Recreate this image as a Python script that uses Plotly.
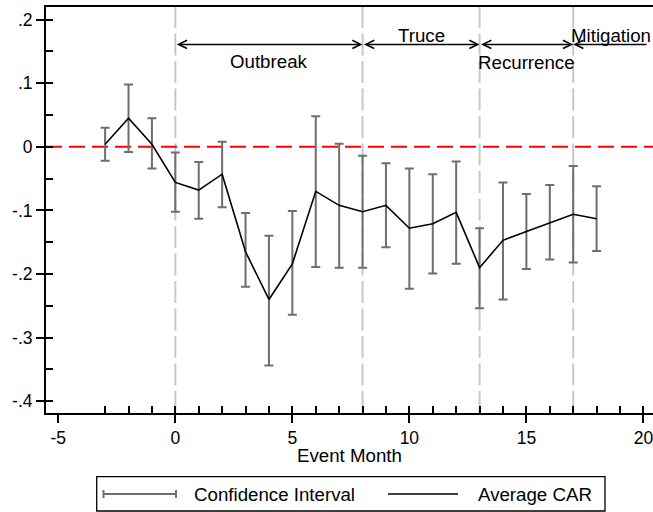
import plotly.graph_objects as go

# ---------------- data ----------------
months = list(range(-3, 19))
avg_car = [0.004, 0.045, 0.004, -0.056, -0.068, -0.043, -0.165, -0.240, -0.184,
           -0.070, -0.092, -0.102, -0.092, -0.128, -0.121, -0.103, -0.190, -0.147,
           -0.133, -0.119, -0.106, -0.113]
ci_upper = [0.030, 0.098, 0.045, -0.009, -0.024, 0.008, -0.104, -0.140, -0.101,
            0.048, 0.005, -0.014, -0.026, -0.034, -0.043, -0.023, -0.128, -0.056,
            -0.074, -0.060, -0.030, -0.062]
ci_lower = [-0.022, -0.008, -0.034, -0.102, -0.113, -0.095, -0.220, -0.344, -0.264,
            -0.189, -0.190, -0.190, -0.158, -0.223, -0.199, -0.184, -0.254, -0.240,
            -0.192, -0.177, -0.182, -0.164]

phase_names = ["Outbreak", "Truce", "Recurrence", "Mitigation"]
phase_starts = [0, 8, 13, 17]
phase_ends = [8, 13, 17, 20.2]

x_tickvals = [-5, 0, 5, 10, 15, 20]
x_ticktext = ["-5", "0", "5", "10", "15", "20"]
y_tickvals = [-0.4, -0.3, -0.2, -0.1, 0, 0.1, 0.2]
y_ticktext = ["-.4", "-.3", "-.2", "-.1", "0", ".1", ".2"]
x_minor_vals = list(range(-3, 21))
y_minor_vals = [-0.4, -0.35, -0.3, -0.25, -0.2, -0.15, -0.1, -0.05, 0,
                0.05, 0.1, 0.15, 0.2]

# ---------------- layout constants ----------------
W, H = 653, 512
L, R, T, B = 46, 0, 7, 99
PW, PH = W - L - R, H - T - B
XR = [-5.526, 20.41]
YR = [-0.4185, 0.2198]
FONT = "Liberation Sans, Arial, Helvetica, sans-serif"
TXT = 18.7
TICK = 17.5
CI_COLOR = "#6e6e6e"


def pxx(px):
    return (px - L) / PW


def pyy(py):
    return (H - B - py) / PH


err_plus = [u - m for u, m in zip(ci_upper, avg_car)]
err_minus = [m - l for m, l in zip(avg_car, ci_lower)]

fig = go.Figure()
fig.add_trace(go.Scatter(
    x=months, y=avg_car, mode="markers", name="Confidence Interval",
    marker=dict(size=1, color="rgba(0,0,0,0)"),
    error_y=dict(type="data", symmetric=False, array=err_plus, arrayminus=err_minus,
                 color=CI_COLOR, thickness=2, width=4.5),
    showlegend=False, hoverinfo="skip"))
fig.add_trace(go.Scatter(
    x=months, y=avg_car, mode="lines", name="Average CAR",
    line=dict(color="black", width=1.6), showlegend=False))
# carrier trace so the overlaid tick axes are rendered
fig.add_trace(go.Scatter(x=[None], y=[None], xaxis="x2", yaxis="y2", mode="lines",
                         showlegend=False, hoverinfo="skip"))

shapes = []
# phase boundaries
for xb in phase_starts:
    shapes.append(dict(type="line", xref="x", yref="paper", x0=xb, x1=xb, y0=0, y1=1,
                       line=dict(color="#c8c8c8", width=2, dash="22px,5.5px"), layer="below"))
# zero line
shapes.append(dict(type="line", xref="paper", yref="y", x0=0, x1=1, y0=0, y1=0,
                   line=dict(color="#ff0000", width=2, dash="16px,7px"), layer="below"))

annotations = []
ARROW_Y = 0.161
for i, (s, e) in enumerate(zip(phase_starts, phase_ends)):
    if i < 3:
        annotations.append(dict(x=e, y=ARROW_Y, ax=s, ay=ARROW_Y, xref="x", yref="y",
                                axref="x", ayref="y", text="", showarrow=True,
                                arrowhead=5, startarrowhead=5, arrowside="end+start",
                                arrowsize=1.1, startarrowsize=1.1, arrowwidth=1.5,
                                arrowcolor="black", standoff=0, startstandoff=0))
    else:
        annotations.append(dict(x=s, y=ARROW_Y, ax=e, ay=ARROW_Y, xref="x", yref="y",
                                axref="x", ayref="y", text="", showarrow=True,
                                arrowhead=5, arrowside="end",
                                arrowsize=1.1, arrowwidth=1.5,
                                arrowcolor="black", standoff=0))

label_pos = [(4, 0.134, "center"), (10.5, 0.175, "center"),
             (15, 0.133, "center"), (20.38, 0.175, "right")]
for name, (lx, ly, anc) in zip(phase_names, label_pos):
    annotations.append(dict(x=lx, y=ly, xref="x", yref="y", text=name, showarrow=False,
                            xanchor=anc, yanchor="middle", borderpad=0,
                            font=dict(family=FONT, size=TXT, color="black")))

# axis title
annotations.append(dict(x=0.5, y=pyy(455), xref="paper", yref="paper",
                        text="Event Month", showarrow=False, xanchor="center",
                        yanchor="middle", font=dict(family=FONT, size=TXT, color="black")))

# custom legend
LEG_Y = 494
shapes.append(dict(type="rect", xref="paper", yref="paper",
                   x0=pxx(96.7), x1=pxx(605), y0=pyy(511), y1=pyy(476.7),
                   line=dict(color="black", width=1.3), fillcolor="white"))
shapes.append(dict(type="line", xref="paper", yref="paper",
                   x0=pxx(103.5), x1=pxx(176), y0=pyy(LEG_Y), y1=pyy(LEG_Y),
                   line=dict(color=CI_COLOR, width=2)))
for cx in (103.5, 176):
    shapes.append(dict(type="line", xref="paper", yref="paper",
                       x0=pxx(cx), x1=pxx(cx), y0=pyy(LEG_Y - 4), y1=pyy(LEG_Y + 4),
                       line=dict(color=CI_COLOR, width=2)))
shapes.append(dict(type="line", xref="paper", yref="paper",
                   x0=pxx(388), x1=pxx(458), y0=pyy(LEG_Y), y1=pyy(LEG_Y),
                   line=dict(color="black", width=1.6)))
annotations.append(dict(x=pxx(192), y=pyy(LEG_Y), xref="paper", yref="paper",
                        text="Confidence Interval", showarrow=False, xanchor="left",
                        yanchor="middle", font=dict(family=FONT, size=TXT, color="black")))
annotations.append(dict(x=pxx(476), y=pyy(LEG_Y), xref="paper", yref="paper",
                        text="Average CAR", showarrow=False, xanchor="left",
                        yanchor="middle", font=dict(family=FONT, size=TXT, color="black")))

fig.update_layout(
    width=W, height=H, margin=dict(l=L, r=R, t=T, b=B, autoexpand=False),
    paper_bgcolor="white", plot_bgcolor="white",
    font=dict(family=FONT, size=TXT, color="black"),
    showlegend=False,
    shapes=shapes, annotations=annotations,
    xaxis=dict(range=XR, tickmode="array", tickvals=x_tickvals, ticktext=x_ticktext,
               ticks="outside", ticklen=8, tickwidth=1.5, tickcolor="black",
               ticklabeloverflow="allow",
               showline=True, linewidth=2, linecolor="black", mirror=True,
               showgrid=False, zeroline=False,
               tickfont=dict(family=FONT, size=TICK, color="black")),
    yaxis=dict(range=YR, tickmode="array", tickvals=y_tickvals, ticktext=y_ticktext,
               ticks="outside", ticklen=8, tickwidth=1.5, tickcolor="black",
               showline=True, linewidth=2, linecolor="black", mirror=False,
               showgrid=False, zeroline=False,
               tickfont=dict(family=FONT, size=TICK, color="black")),
    xaxis2=dict(range=XR, overlaying="x", anchor="y", side="bottom",
                tickmode="array", tickvals=x_minor_vals, ticks="inside", ticklen=7,
                tickwidth=1.5, tickcolor="black", showticklabels=False,
                showline=False, showgrid=False, zeroline=False),
    yaxis2=dict(range=YR, overlaying="y", anchor="x", side="left",
                tickmode="array", tickvals=y_minor_vals, ticks="inside", ticklen=7,
                tickwidth=1.5, tickcolor="black", showticklabels=False,
                showline=False, showgrid=False, zeroline=False),
)

fig.write_html("out.html", config={"displayModeBar": False},
               post_script="document.body.style.margin='0';document.body.style.overflow='hidden';")
